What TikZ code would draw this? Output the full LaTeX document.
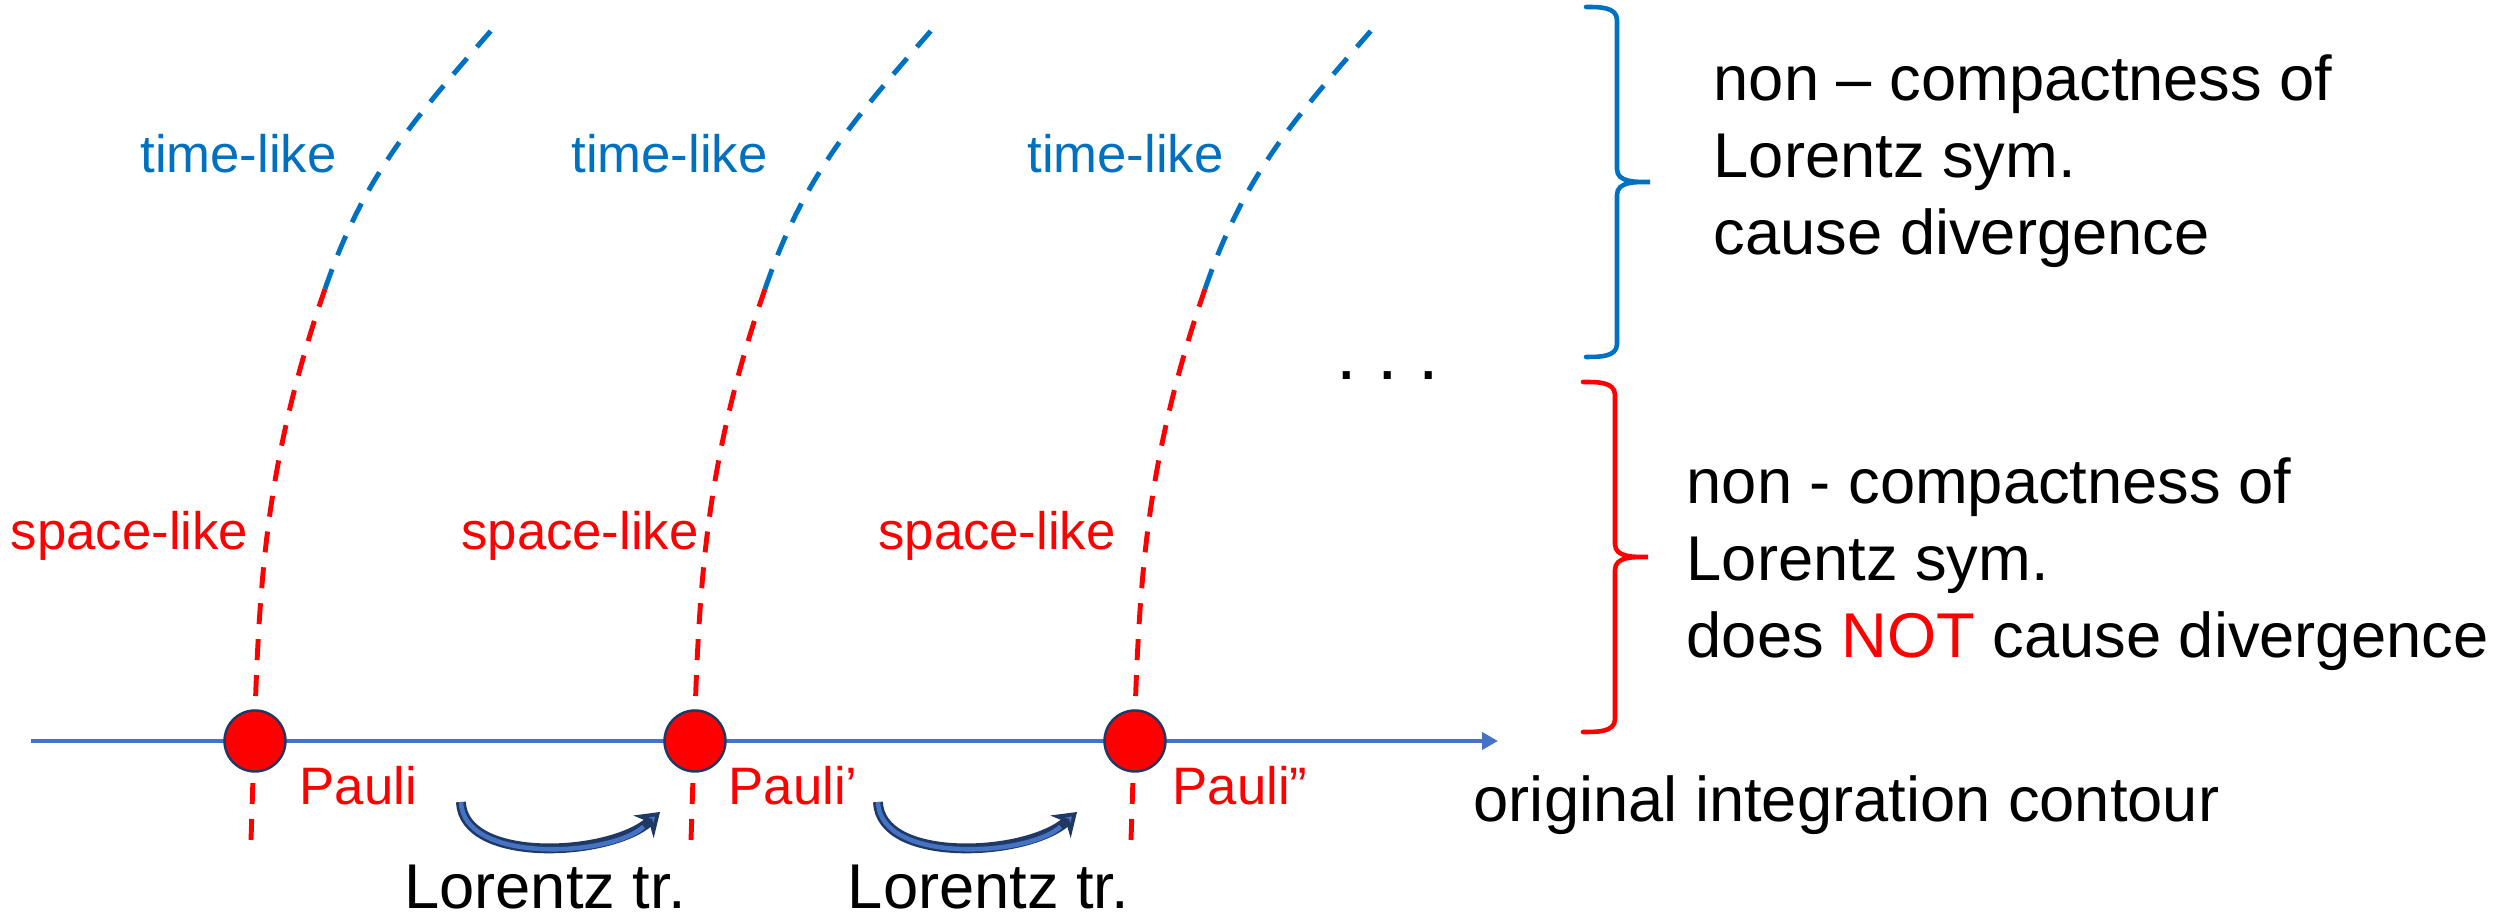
\documentclass[tikz,border=0pt]{standalone}
\usepackage{fontspec}
\setmainfont{Liberation Sans}
\usetikzlibrary{arrows.meta,positioning,calc}
\definecolor{tblue}{HTML}{0070C0}
\definecolor{sred}{HTML}{FF0000}
\definecolor{axblue}{HTML}{4472C4}
\definecolor{dnavy}{HTML}{203864}
\definecolor{lornavy}{HTML}{2F5597}
\tikzset{
  lbl/.style       = {inner sep=0pt, font=\fontsize{15}{18}\selectfont},
  txt/.style       = {inner sep=0pt, font=\fontsize{18}{21.9}\selectfont, align=left},
  worldline/.style = {line width=1.4pt, dash pattern=on 0.21cm off 0.15cm},
  pauli/.style     = {circle, fill=sred, draw=dnavy, line width=0.7pt,
                      minimum size=0.61cm, inner sep=0pt},
  lortr/.style     = {line width=2.8pt, dnavy,
                      -{Stealth[length=0.22cm,width=0.3cm,fill=axblue]}},
  lorfill/.style   = {line width=1.3pt, axblue, shorten >=0.22cm},
  brace/.style     = {line width=1.3pt, line cap=round},
}
\begin{document}
\begin{tikzpicture}
\useasboundingbox (0,0) rectangle (24.96,9.22);
% original contour
\coordinate (c0) at (0.31,1.81);
\coordinate (c1) at (14.98,1.81);
\draw[axblue, line width=1.2pt, -{Triangle[length=0.16cm,width=0.17cm]}] (c0) -- (c1);
% boosted lines through the points
\foreach \i/\x in {1/2.55, 2/6.95, 3/11.35}{
  \coordinate (b\i) at (\x-0.04,0.82);
  \coordinate (m\i) at (\x+0.70,6.33);
  \coordinate (t\i) at (\x+2.41,8.97);
  \draw[worldline,sred] (b\i) to[out=88,in=-109] (m\i);
  \draw[worldline,tblue] (m\i) to[out=71,in=-131] (t\i);
  \node[pauli] (p\i) at (\x,1.81) {};
}
\foreach \i/\x in {1/2.385, 2/6.695, 3/11.255}
  \node[lbl,tblue,anchor=base] (tl\i) at (\x,7.49) {time-like};
\foreach \i/\x in {1/1.295, 2/5.80, 3/9.97}
  \node[lbl,sred,anchor=base] (sl\i) at (\x,3.72) {space-like};
\node[lbl,sred,anchor=base west] (pl1) at (2.99,1.17) {Pauli};
\node[lbl,sred,anchor=base west] (pl2) at (7.28,1.17) {Pauli’};
\node[lbl,sred,anchor=base west] (pl3) at (11.72,1.17) {Pauli”};
% Lorentz transformations
\foreach \i/\x/\xl in {1/4.61/5.45, 2/8.78/9.885}{
  \coordinate (ls\i) at (\x,1.20);
  \coordinate (le\i) at (\x+1.99,1.10);
  \draw[lortr] (ls\i) .. controls +(0.02,-0.62) and +(-0.5,-0.45) .. (le\i);
  \draw[lorfill] (ls\i) .. controls +(0.02,-0.62) and +(-0.5,-0.45) .. (le\i);
  \node[txt,anchor=base] (lt\i) at (\xl,0.13) {Lorentz tr.};
}
\node[txt,anchor=base west] (orig) at (14.73,1.00) {original integration contour};
\node[inner sep=0pt, font=\fontsize{21}{25}\selectfont, anchor=base west] (more) at (13.36,5.42) {.\ .\ .};
% braces
\draw[brace,tblue] (15.86,9.15) to[out=0,in=90] (16.17,9.02) -- (16.17,7.53)
  to[out=-90,in=180] (16.50,7.40) to[out=180,in=90] (16.17,7.27) -- (16.17,5.78)
  to[out=-90,in=0] (15.86,5.65);
\draw[brace,sred] (15.83,5.40) to[out=0,in=90] (16.15,5.27) -- (16.15,3.78)
  to[out=-90,in=180] (16.48,3.65) to[out=180,in=90] (16.15,3.52) -- (16.15,2.03)
  to[out=-90,in=0] (15.83,1.90);
\node[txt,anchor=north west] (tlbox) at (17.13,8.68)
  {non – compactness of\\Lorentz sym.\\cause divergence};
\node[txt,anchor=north west] (slbox) at (16.86,4.65)
  {non - compactness of\\Lorentz sym.\\does {\color{sred}NOT} cause divergence};
\end{tikzpicture}
\end{document}
